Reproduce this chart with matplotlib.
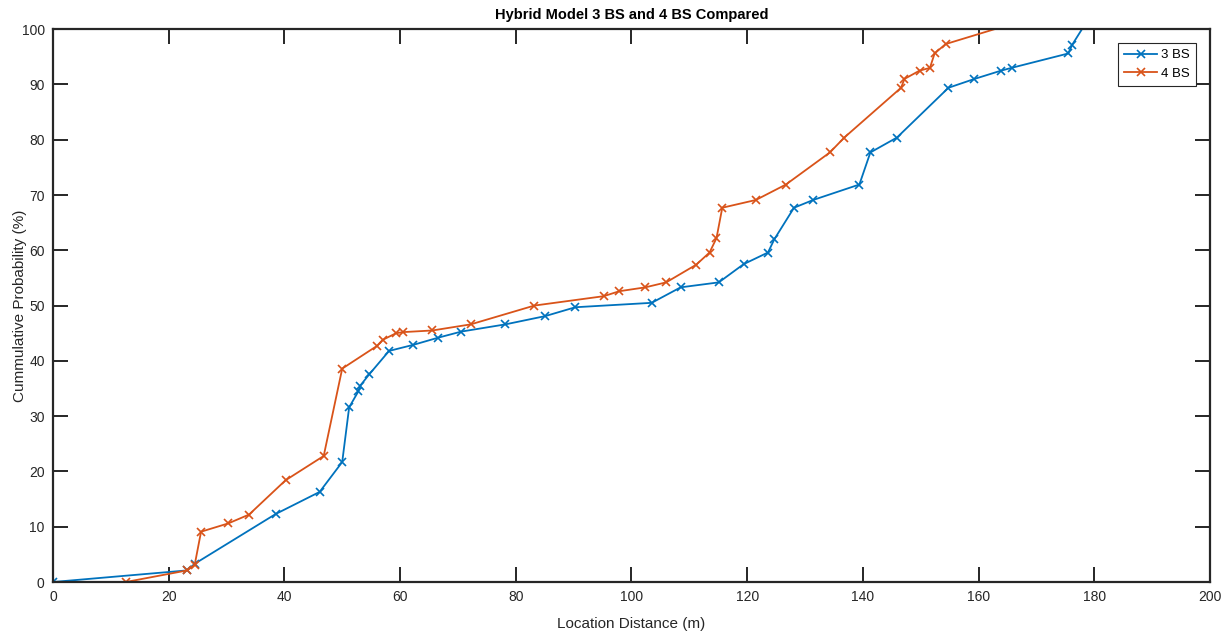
import numpy as np
import matplotlib.pyplot as plt
from matplotlib import font_manager

#--- Data ---#

# 3 BS hybrid model: location distance (m) and cumulative probability (%)
dist_3bs = [0.0, 23.2, 24.5, 38.5, 46.1, 50.0, 51.2, 52.8, 53.1, 54.7, 58.1,
            62.3, 66.6, 70.6, 78.2, 85.1, 90.3, 103.5, 108.5, 115.1, 119.4,
            123.6, 124.7, 128.1, 131.4, 139.4, 141.3, 145.9, 154.8, 159.3,
            163.9, 165.7, 175.5, 176.2, 178.6]
prob_3bs = [0.0, 2.1, 3.3, 12.3, 16.3, 21.7, 31.6, 34.5, 35.5, 37.6, 41.8,
            42.9, 44.2, 45.3, 46.6, 48.1, 49.7, 50.5, 53.3, 54.2, 57.5,
            59.6, 62.0, 67.7, 69.1, 71.9, 77.7, 80.4, 89.4, 91.0,
            92.5, 93.0, 95.6, 97.2, 101.2]

# 4 BS hybrid model
dist_4bs = [12.6, 23.2, 24.5, 25.6, 30.3, 33.9, 40.2, 46.8, 50.0, 56.0, 57.0,
            59.3, 60.5, 65.6, 72.2, 83.2, 95.2, 97.9, 102.4, 106.0, 111.2,
            113.5, 114.7, 115.7, 121.5, 126.7, 134.3, 136.8, 146.6, 147.2,
            149.8, 151.6, 152.4, 154.3, 170.0]
prob_4bs = [0.0, 2.1, 3.1, 9.1, 10.6, 12.2, 18.4, 22.8, 38.6, 42.7, 43.8,
            45.0, 45.2, 45.5, 46.6, 50.0, 51.7, 52.6, 53.3, 54.2, 57.4,
            59.6, 62.2, 67.7, 69.1, 71.9, 77.7, 80.4, 89.4, 91.0,
            92.5, 93.0, 95.6, 97.3, 102.3]

x_ticks = np.arange(0, 201, 20)
y_ticks = np.arange(0, 101, 10)

#--- Figure setup (MATLAB-like look) ---#
installed = {f.name for f in font_manager.fontManager.ttflist}
plt.rcParams['font.family'] = ['Liberation Sans', 'DejaVu Sans']
title_font = 'Liberation Sans Narrow' if 'Liberation Sans Narrow' in installed else 'Liberation Sans'

fig = plt.figure(figsize=(12.26, 6.34), dpi=100)
ax = fig.add_axes([0.0432, 0.082, 0.9437, 0.872])

ax.plot(dist_3bs, prob_3bs, '-x', color='#0072BD', lw=1.3, ms=6, mew=1.2, label='3 BS')
ax.plot(dist_4bs, prob_4bs, '-x', color='#D95319', lw=1.3, ms=6, mew=1.2, label='4 BS')

ax.set_xlim(0, 200)
ax.set_ylim(0, 100)
ax.set_xticks(x_ticks)
ax.set_yticks(y_ticks)

ax.tick_params(direction='in', length=11, width=1.4, top=True, right=True,
               labelsize=10, colors='#262626', pad=6)
for side in ax.spines.values():
    side.set_linewidth(1.6)
    side.set_color('#262626')

ax.set_xlabel('Location Distance (m)', fontsize=11, color='#262626', labelpad=9)
ax.set_ylabel('Cummulative Probability (%)', fontsize=11, color='#262626', labelpad=-4)
ax.set_title('Hybrid Model 3 BS and 4 BS Compared', fontsize=10.5, fontweight='bold',
             family=title_font, pad=7)

leg = ax.legend(loc='upper right', bbox_to_anchor=(0.988, 0.975), fontsize=9.5,
                fancybox=False, framealpha=1, edgecolor='#262626',
                handlelength=2.5, borderpad=0.45, labelspacing=0.5, handletextpad=0.3,
                borderaxespad=0.0)
leg.get_frame().set_linewidth(0.8)

fig.savefig('out.png', dpi=100)
